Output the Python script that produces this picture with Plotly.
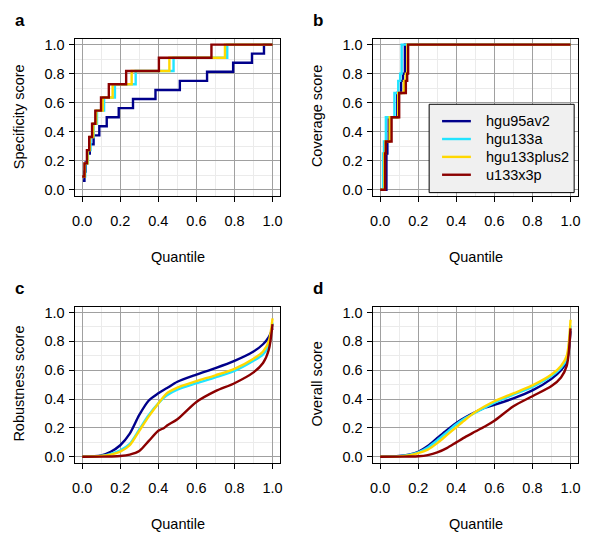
"""
Probe-set annotation scores: specificity, coverage, robustness, overall
Four-panel quantile plot in the R base-graphics look
"""

import plotly.graph_objects as go
from plotly.subplots import make_subplots

# the page body keeps its default 8px margin, so lay out in window pixels
# and shift by that margin
OFF = 8
W, H = 592, 530


def px_x(p):
    return (p - OFF) / W


def px_y(p):
    return 1 - (p - OFF) / H


chips = ['hgu95av2', 'hgu133a', 'hgu133plus2', 'u133x3p']
colors = {'hgu95av2': '#00008B', 'hgu133a': '#22E4FF',
          'hgu133plus2': '#FFD700', 'u133x3p': '#8B0000'}

# a - specificity (step functions)
spec_x = {
    'hgu95av2': [0.004, 0.012, 0.018, 0.028, 0.04, 0.06, 0.09, 0.129, 0.192, 0.267,
                 0.385, 0.513, 0.656, 0.793, 0.892, 0.955, 1.0],
    'hgu133a': [0.004, 0.016, 0.03, 0.044, 0.06, 0.078, 0.115, 0.172, 0.281, 0.48, 0.762, 1.0],
    'hgu133plus2': [0.002, 0.014, 0.028, 0.04, 0.058, 0.074, 0.108, 0.16, 0.26, 0.458, 0.75, 1.0],
    'u133x3p': [0.0, 0.012, 0.025, 0.037, 0.052, 0.069, 0.099, 0.14, 0.231, 0.403, 0.679, 1.0],
}
spec_y = {
    'hgu95av2': [0.0625, 0.125, 0.1875, 0.25, 0.3125, 0.375, 0.4375, 0.5, 0.5625, 0.625,
                 0.6875, 0.75, 0.8125, 0.875, 0.9375, 1.0, 1.0],
    'hgu133a': [0.091, 0.182, 0.273, 0.364, 0.455, 0.545, 0.636, 0.727, 0.818, 0.909, 1.0, 1.0],
    'hgu133plus2': [0.091, 0.182, 0.273, 0.364, 0.455, 0.545, 0.636, 0.727, 0.818, 0.909, 1.0, 1.0],
    'u133x3p': [0.091, 0.182, 0.273, 0.364, 0.455, 0.545, 0.636, 0.727, 0.818, 0.909, 1.0, 1.0],
}

# b - coverage (step functions)
cov_x = {
    'hgu95av2': [0.0, 0.033, 0.038, 0.045, 0.09, 0.11, 0.12, 0.13, 1.0],
    'hgu133a': [0.0, 0.015, 0.02, 0.03, 0.075, 0.095, 0.105, 0.113, 1.0],
    'hgu133plus2': [0.0, 0.022, 0.028, 0.05, 0.095, 0.125, 0.135, 0.143, 1.0],
    'u133x3p': [0.0, 0.026, 0.03, 0.06, 0.10, 0.135, 0.142, 0.147, 1.0],
}
cov_y = {
    'hgu95av2': [0.0, 0.25, 0.333, 0.5, 0.667, 0.75, 0.8, 1.0, 1.0],
    'hgu133a': [0.0, 0.25, 0.333, 0.5, 0.667, 0.75, 0.8, 1.0, 1.0],
    'hgu133plus2': [0.0, 0.25, 0.333, 0.5, 0.667, 0.75, 0.8, 1.0, 1.0],
    'u133x3p': [0.0, 0.25, 0.333, 0.5, 0.667, 0.75, 0.8, 1.0, 1.0],
}

# c - robustness (smooth curves)
rob_x = [0, 0.1, 0.15, 0.2, 0.25, 0.3, 0.35, 0.4, 0.43, 0.45, 0.5, 0.6, 0.7, 0.8,
         0.9, 0.95, 0.98, 1.0]
rob_y = {
    'hgu95av2': [0, 0.01, 0.035, 0.08, 0.16, 0.29, 0.39, 0.44, 0.465, 0.48, 0.52,
                 0.57, 0.615, 0.665, 0.73, 0.78, 0.83, 0.89],
    'hgu133a': [0, 0.006, 0.02, 0.045, 0.09, 0.19, 0.29, 0.37, 0.41, 0.43, 0.465,
                0.51, 0.55, 0.595, 0.665, 0.71, 0.77, 0.93],
    'hgu133plus2': [0, 0.005, 0.015, 0.036, 0.08, 0.18, 0.28, 0.37, 0.42, 0.445, 0.48,
                    0.525, 0.565, 0.61, 0.68, 0.73, 0.80, 0.96],
    'u133x3p': [0, 0.001, 0.002, 0.005, 0.015, 0.04, 0.11, 0.18, 0.2, 0.22, 0.26,
                0.38, 0.455, 0.51, 0.585, 0.65, 0.74, 0.92],
}

# d - overall (smooth curves)
ovr_x = [0, 0.1, 0.15, 0.2, 0.25, 0.3, 0.35, 0.4, 0.45, 0.5, 0.55, 0.6, 0.7, 0.8,
         0.9, 0.95, 0.98, 1.0]
ovr_y = {
    'hgu95av2': [0, 0.005, 0.015, 0.035, 0.075, 0.13, 0.185, 0.235, 0.275, 0.31,
                 0.34, 0.36, 0.405, 0.46, 0.54, 0.6, 0.66, 0.87],
    'hgu133a': [0, 0.004, 0.013, 0.03, 0.065, 0.115, 0.17, 0.225, 0.27, 0.305,
                0.34, 0.375, 0.43, 0.485, 0.56, 0.615, 0.68, 0.91],
    'hgu133plus2': [0, 0.003, 0.01, 0.025, 0.05, 0.095, 0.15, 0.205, 0.26, 0.31,
                    0.35, 0.385, 0.44, 0.495, 0.57, 0.63, 0.70, 0.95],
    'u133x3p': [0, 0.001, 0.002, 0.004, 0.012, 0.03, 0.06, 0.10, 0.14, 0.175,
                0.21, 0.25, 0.35, 0.42, 0.49, 0.55, 0.63, 0.89],
}

panels = [
    ('a', 'Specificity score', 1, 1),
    ('b', 'Coverage score', 1, 2),
    ('c', 'Robustness score', 2, 1),
    ('d', 'Overall score', 2, 2),
]

fig = make_subplots(rows=2, cols=2)

LW = 2.4
for c in chips:
    fig.add_trace(go.Scatter(x=spec_x[c], y=spec_y[c], mode='lines', name=c,
                             line=dict(color=colors[c], width=LW, shape='hv'),
                             showlegend=False), row=1, col=1)
    fig.add_trace(go.Scatter(x=cov_x[c], y=cov_y[c], mode='lines', name=c,
                             line=dict(color=colors[c], width=LW, shape='hv'),
                             showlegend=False), row=1, col=2)
    fig.add_trace(go.Scatter(x=rob_x, y=rob_y[c], mode='lines', name=c,
                             line=dict(color=colors[c], width=LW, shape='spline', smoothing=0.8),
                             showlegend=False), row=2, col=1)
    fig.add_trace(go.Scatter(x=ovr_x, y=ovr_y[c], mode='lines', name=c,
                             line=dict(color=colors[c], width=LW, shape='spline', smoothing=0.8),
                             showlegend=False), row=2, col=2)

# window-pixel boxes of each plot region (left, right, top, bottom)
boxes = {(1, 1): (73, 280, 37, 195), (1, 2): (373, 580, 37, 195),
         (2, 1): (73, 280, 307, 464), (2, 2): (373, 580, 307, 464)}

font = 'Liberation Sans, Arial, sans-serif'
FS = 14.5
axis_common = dict(
    range=[-0.04, 1.04], tick0=0, dtick=0.2, tickformat='.1f',
    showline=True, linecolor='black', linewidth=1, mirror=True,
    ticks='outside', ticklen=5, tickcolor='black',
    showgrid=True, gridcolor='#a0a0a0', gridwidth=1, zeroline=False,
    minor=dict(dtick=0.1, tick0=0, showgrid=True, gridcolor='#ebebeb', gridwidth=1),
    tickfont=dict(family=font, size=FS, color='black'),
)

annotations = []
for label, ytitle, r, col in panels:
    l, rgt, t, b = boxes[(r, col)]
    fig.update_xaxes(domain=[px_x(l), px_x(rgt)], ticklabelstandoff=7,
                     **axis_common, row=r, col=col)
    fig.update_yaxes(domain=[px_y(b), px_y(t)], ticklabelstandoff=1,
                     **axis_common, row=r, col=col)
    annotations.append(dict(text='Quantile', x=px_x((l + rgt) / 2 + 1), y=px_y(b + 62),
                            xref='paper', yref='paper', showarrow=False,
                            xanchor='center', yanchor='middle',
                            font=dict(family=font, size=FS, color='black')))
    annotations.append(dict(text=ytitle, x=px_x(l - 56), y=px_y((t + b) / 2 - 1),
                            xref='paper', yref='paper', showarrow=False, textangle=-90,
                            xanchor='center', yanchor='middle', borderpad=0,
                            font=dict(family=font, size=FS, color='black')))
    annotations.append(dict(text='<b>%s</b>' % label, x=px_x(l - 55), y=px_y(t - 18),
                            xref='paper', yref='paper', showarrow=False,
                            xanchor='center', yanchor='middle',
                            font=dict(family=font, size=17, color='black')))

# legend drawn in the style of R's legend(): shaded box, line keys, labels
shapes = [dict(type='rect', xref='paper', yref='paper',
               x0=px_x(430), x1=px_x(576), y0=px_y(192), y1=px_y(103),
               fillcolor='#f0f0f0', line=dict(color='black', width=1), layer='above')]
for i, c in enumerate(chips):
    row_y = 120 + i * 18
    shapes.append(dict(type='line', xref='paper', yref='paper',
                       x0=px_x(443), x1=px_x(472), y0=px_y(row_y), y1=px_y(row_y),
                       line=dict(color=colors[c], width=LW), layer='above'))
    annotations.append(dict(text=c, x=px_x(485), y=px_y(row_y), xref='paper', yref='paper',
                            showarrow=False, xanchor='left', yanchor='middle',
                            font=dict(family=font, size=FS, color='black')))

fig.update_layout(
    width=W, height=H,
    margin=dict(l=0, r=0, t=0, b=0),
    paper_bgcolor='white', plot_bgcolor='white',
    annotations=annotations,
    shapes=shapes,
    showlegend=False,
    font=dict(family=font),
)

fig.write_html('out.html')
